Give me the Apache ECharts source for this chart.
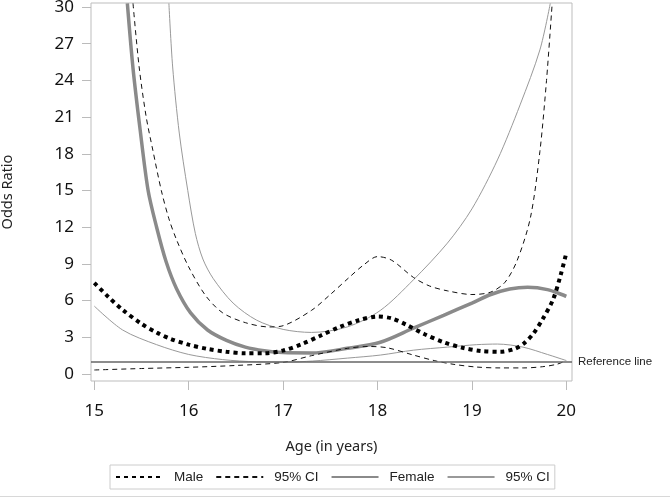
<!DOCTYPE html>
<html>
<head>
<meta charset="utf-8">
<script src="https://cdn.jsdelivr.net/npm/echarts@6/dist/echarts.min.js"></script>
<style>html,body{margin:0;padding:0;background:#fff;}#c{width:670px;height:500px;}</style>
</head>
<body>
<div id="c"></div>
<script>
// ----- data (age in years, odds ratio) -----
const xTicks = [15, 16, 17, 18, 19, 20];
const yTicks = [0, 3, 6, 9, 12, 15, 18, 21, 24, 27, 30];
const referenceValue = 1;

const male = [[15.0,7.45],[15.15,6.3],[15.3,5.25],[15.5,4.1],[15.66,3.4],[15.8,2.9],[16.0,2.4],[16.2,2.05],[16.4,1.82],[16.6,1.7],[16.8,1.7],[17.0,1.92],[17.2,2.45],[17.4,3.15],[17.6,3.85],[17.8,4.4],[18.0,4.7],[18.15,4.55],[18.3,4.05],[18.5,3.25],[18.7,2.6],[18.9,2.15],[19.1,1.88],[19.3,1.82],[19.45,2.05],[19.55,2.5],[19.65,3.3],[19.75,4.5],[19.86,6.1],[19.94,8.1],[20.0,9.9]];
const maleUpper = [[15.41,30.3],[15.475,25.1],[15.55,21.0],[15.62,18.3],[15.71,15.0],[15.79,12.7],[15.87,11.0],[16.0,8.75],[16.18,6.4],[16.36,5.0],[16.6,4.2],[16.85,3.85],[17.0,3.95],[17.3,5.2],[17.5,6.5],[17.7,7.9],[17.85,8.9],[18.0,9.6],[18.15,9.3],[18.38,7.9],[18.55,7.2],[18.74,6.8],[19.0,6.5],[19.2,6.7],[19.35,7.5],[19.48,9.3],[19.62,12.8],[19.72,18.2],[19.79,24.0],[19.85,30.3]];
const maleLower = [[15.0,0.33],[15.5,0.45],[16.0,0.55],[16.5,0.7],[17.0,0.95],[17.3,1.5],[17.68,2.1],[17.9,2.25],[18.1,2.15],[18.38,1.55],[18.6,1.1],[18.8,0.8],[19.05,0.57],[19.3,0.5],[19.55,0.5],[19.75,0.6],[19.9,0.8],[20.0,1.1]];
const female = [[15.35,30.3],[15.41,25.0],[15.485,20.0],[15.57,15.0],[15.66,12.0],[15.76,9.2],[15.87,7.0],[16.02,5.0],[16.2,3.6],[16.4,2.75],[16.6,2.2],[16.8,1.9],[17.0,1.75],[17.3,1.72],[17.68,2.1],[18.03,2.6],[18.38,3.75],[18.7,4.8],[19.0,5.8],[19.2,6.5],[19.4,6.95],[19.59,7.1],[19.8,6.9],[20.0,6.35]];
const femaleUpper = [[15.79,30.3],[15.83,25.1],[15.9,19.7],[15.99,15.0],[16.07,11.5],[16.15,9.4],[16.26,7.8],[16.47,5.8],[16.72,4.4],[17.0,3.65],[17.3,3.4],[17.68,3.85],[18.03,5.2],[18.38,7.7],[18.74,10.7],[19.0,13.5],[19.27,17.5],[19.51,22.0],[19.72,26.5],[19.83,30.3]];
const femaleLower = [[15.0,5.55],[15.3,3.6],[15.66,2.4],[16.0,1.6],[16.36,1.18],[16.72,1.0],[17.04,0.98],[17.31,1.06],[17.68,1.3],[18.03,1.55],[18.38,1.95],[18.74,2.2],[19.05,2.4],[19.27,2.45],[19.54,2.2],[19.8,1.6],[20.0,1.1]];

const chart = echarts.init(document.getElementById('c'));
const tickFont = 'Noto Sans, Open Sans, sans-serif';

function line(name, data, color, width, type, z) {
  return { name: name, type: 'line', data: data, showSymbol: false, symbol: 'none',
    smooth: 0.3, z: z || 2, lineStyle: { color: color, width: width, type: type, cap: 'butt' },
    itemStyle: { color: color }, emphasis: { disabled: true }, animation: false };
}

const refSeries = {
  name: 'ref', type: 'line', data: [], symbol: 'none', animation: false,
  markLine: {
    silent: true, symbol: 'none', animation: false,
    lineStyle: { color: '#666', width: 1.5, type: 'solid' },
    label: { show: true, position: 'end', formatter: 'Reference line', color: '#222', fontSize: 11.5, fontFamily: 'Liberation Sans, Arial, sans-serif', distance: 6 },
    data: [{ yAxis: referenceValue }]
  }
};

chart.setOption({
  animation: false,
  backgroundColor: '#fff',
  grid: { left: 91, right: 98, top: 3, bottom: 119, outerBoundsMode: 'none', containLabel: false, show: true, borderColor: '#bdbdbd', borderWidth: 1, backgroundColor: 'transparent' },
  xAxis: {
    type: 'value', min: 14.965, max: 20.06,
    name: 'Age (in years)', nameLocation: 'middle', nameGap: 58,
    nameTextStyle: { fontFamily: tickFont, fontSize: 14.5, color: '#222' },
    axisLine: { show: false, onZero: false },
    axisTick: { show: true, length: 9, lineStyle: { color: '#bbb' }, customValues: xTicks },
    axisLabel: { fontFamily: tickFont, fontSize: 17, color: '#111', margin: 22, customValues: xTicks },
    splitLine: { show: false }
  },
  yAxis: {
    type: 'value', min: -0.57, max: 30.33,
    name: 'Odds Ratio', nameLocation: 'middle', nameGap: 76, nameRotate: 90,
    nameTextStyle: { fontFamily: tickFont, fontSize: 14.5, color: '#222' },
    axisLine: { show: false, onZero: false },
    axisTick: { show: true, length: 9, lineStyle: { color: '#bbb' }, customValues: yTicks },
    axisLabel: { fontFamily: tickFont, fontSize: 17, color: '#111', margin: 17, customValues: yTicks },
    splitLine: { show: false }
  },
  legend: {
    left: 110, top: 465,
    padding: [5, 5, 5, 5], itemGap: 12, itemWidth: 47, itemHeight: 12,
    borderColor: '#ccc', borderWidth: 1,
    itemStyle: { opacity: 0, color: 'transparent', borderWidth: 0 },
    data: ['Male', 'Male CI', 'Female', 'Female CI'],
    formatter: function (n) { return (n === 'Male CI' || n === 'Female CI') ? '95% CI' : n; },
    textStyle: { fontFamily: 'Liberation Sans, Arial, sans-serif', fontSize: 13.5, color: '#222', padding: [0, 0, 0, 6] },
    selectedMode: false
  },
  graphic: [{ type: 'rect', shape: { x: 0, y: 496, width: 670, height: 1 }, style: { fill: '#d8d8d8' }, silent: true }],
  series: [
    refSeries,
    line('Male', male, '#000', 4, [4, 4], 5),
    line('Male CI', maleUpper, '#111', 1, [5, 4], 4),
    line('Female', female, '#8a8a8a', 3.5, 'solid', 3),
    line('Female CI', femaleUpper, '#999', 1, 'solid', 2),
    line('Male CI', maleLower, '#111', 1, [5, 4], 4),
    line('Female CI', femaleLower, '#999', 1, 'solid', 2)
  ]
});
</script>
</body>
</html>
